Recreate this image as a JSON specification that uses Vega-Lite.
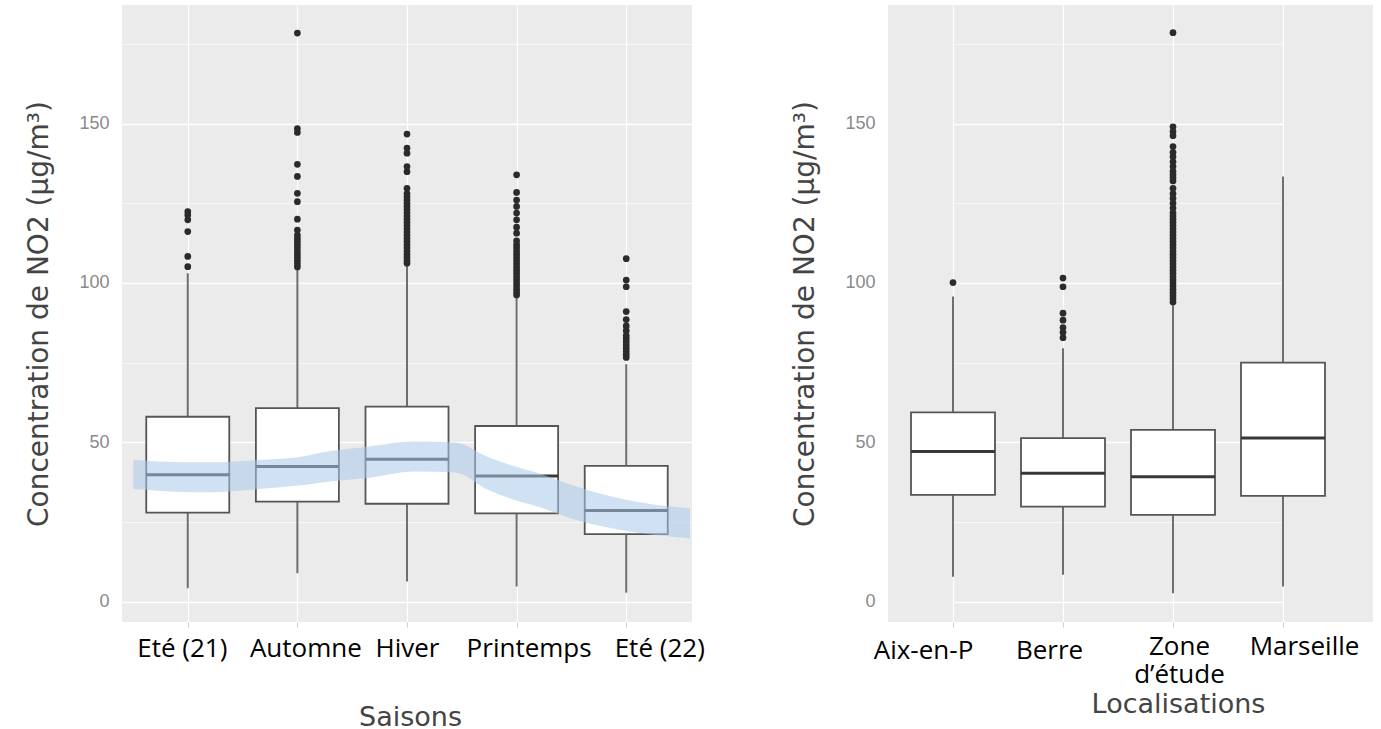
{
  "$schema": "https://vega.github.io/schema/vega-lite/v6.json",
  "padding": {"left": 25, "top": 5, "right": 5, "bottom": 0},
  "background": "white",
  "bounds": "flush",
  "spacing": 196,
  "datasets": {
    "leftBox": [
      {"s": "Eté (21)", "lo": 4.2, "q1": 27.9, "med": 39.8, "q3": 58.0, "hi": 103},
      {"s": "Automne", "lo": 8.9, "q1": 31.4, "med": 42.4, "q3": 60.7, "hi": 104.5},
      {"s": "Hiver", "lo": 6.3, "q1": 30.7, "med": 44.7, "q3": 61.2, "hi": 105.5},
      {"s": "Printemps", "lo": 4.7, "q1": 27.7, "med": 39.4, "q3": 55.1, "hi": 95.5},
      {"s": "Eté (22)", "lo": 2.8, "q1": 21.2, "med": 28.6, "q3": 42.6, "hi": 74.5}
    ],
    "leftOut": [
      {"s": "Eté (21)", "v": 105.1}, {"s": "Eté (21)", "v": 108.3}, {"s": "Eté (21)", "v": 116.1}, {"s": "Eté (21)", "v": 119.8}, {"s": "Eté (21)", "v": 121.3}, {"s": "Eté (21)", "v": 122.4},
      {"s": "Automne", "v": 105}, {"s": "Automne", "v": 106}, {"s": "Automne", "v": 107}, {"s": "Automne", "v": 108}, {"s": "Automne", "v": 109}, {"s": "Automne", "v": 110}, {"s": "Automne", "v": 111}, {"s": "Automne", "v": 112}, {"s": "Automne", "v": 113}, {"s": "Automne", "v": 114}, {"s": "Automne", "v": 115}, {"s": "Automne", "v": 116.6}, {"s": "Automne", "v": 120}, {"s": "Automne", "v": 125.5}, {"s": "Automne", "v": 128.1}, {"s": "Automne", "v": 133.4}, {"s": "Automne", "v": 137.2}, {"s": "Automne", "v": 147.2}, {"s": "Automne", "v": 148.4}, {"s": "Automne", "v": 178.4},
      {"s": "Hiver", "v": 106.2}, {"s": "Hiver", "v": 107}, {"s": "Hiver", "v": 108}, {"s": "Hiver", "v": 109}, {"s": "Hiver", "v": 110}, {"s": "Hiver", "v": 111}, {"s": "Hiver", "v": 112}, {"s": "Hiver", "v": 113}, {"s": "Hiver", "v": 114}, {"s": "Hiver", "v": 115}, {"s": "Hiver", "v": 116}, {"s": "Hiver", "v": 117}, {"s": "Hiver", "v": 118}, {"s": "Hiver", "v": 119}, {"s": "Hiver", "v": 120}, {"s": "Hiver", "v": 121}, {"s": "Hiver", "v": 122}, {"s": "Hiver", "v": 123}, {"s": "Hiver", "v": 124}, {"s": "Hiver", "v": 125}, {"s": "Hiver", "v": 126}, {"s": "Hiver", "v": 127}, {"s": "Hiver", "v": 128}, {"s": "Hiver", "v": 129.7}, {"s": "Hiver", "v": 134.9}, {"s": "Hiver", "v": 136.5}, {"s": "Hiver", "v": 140.7}, {"s": "Hiver", "v": 142.3}, {"s": "Hiver", "v": 146.7},
      {"s": "Printemps", "v": 96.2}, {"s": "Printemps", "v": 97}, {"s": "Printemps", "v": 98}, {"s": "Printemps", "v": 99}, {"s": "Printemps", "v": 100}, {"s": "Printemps", "v": 101}, {"s": "Printemps", "v": 102}, {"s": "Printemps", "v": 103}, {"s": "Printemps", "v": 104}, {"s": "Printemps", "v": 105}, {"s": "Printemps", "v": 106}, {"s": "Printemps", "v": 107}, {"s": "Printemps", "v": 108}, {"s": "Printemps", "v": 109}, {"s": "Printemps", "v": 110}, {"s": "Printemps", "v": 111}, {"s": "Printemps", "v": 112}, {"s": "Printemps", "v": 113.2}, {"s": "Printemps", "v": 115.6}, {"s": "Printemps", "v": 117.5}, {"s": "Printemps", "v": 119.8}, {"s": "Printemps", "v": 121.9}, {"s": "Printemps", "v": 124}, {"s": "Printemps", "v": 126}, {"s": "Printemps", "v": 128.4}, {"s": "Printemps", "v": 133.9},
      {"s": "Eté (22)", "v": 76.6}, {"s": "Eté (22)", "v": 77.5}, {"s": "Eté (22)", "v": 78.5}, {"s": "Eté (22)", "v": 79.5}, {"s": "Eté (22)", "v": 80.5}, {"s": "Eté (22)", "v": 81.5}, {"s": "Eté (22)", "v": 82.5}, {"s": "Eté (22)", "v": 83.5}, {"s": "Eté (22)", "v": 85}, {"s": "Eté (22)", "v": 86.5}, {"s": "Eté (22)", "v": 88.5}, {"s": "Eté (22)", "v": 91}, {"s": "Eté (22)", "v": 98.8}, {"s": "Eté (22)", "v": 100.9}, {"s": "Eté (22)", "v": 107.6}
    ],
    "leftBand": [
      {"u": 0.503, "top": 44.4, "bot": 35.3},
      {"u": 0.728, "top": 44.0, "bot": 34.8},
      {"u": 1.185, "top": 43.7, "bot": 34.3},
      {"u": 1.641, "top": 44.4, "bot": 35.3},
      {"u": 2.006, "top": 45.3, "bot": 36.4},
      {"u": 2.316, "top": 47.3, "bot": 37.8},
      {"u": 2.617, "top": 48.5, "bot": 38.7},
      {"u": 3.073, "top": 50.2, "bot": 40.8},
      {"u": 3.438, "top": 49.9, "bot": 40.5},
      {"u": 3.742, "top": 45.3, "bot": 35.0},
      {"u": 3.986, "top": 42.4, "bot": 31.8},
      {"u": 4.198, "top": 40.3, "bot": 29.8},
      {"u": 4.503, "top": 36.6, "bot": 26.0},
      {"u": 4.868, "top": 33.0, "bot": 23.0},
      {"u": 5.263, "top": 30.4, "bot": 20.9},
      {"u": 5.582, "top": 29.3, "bot": 19.9}
    ],
    "rightBox": [
      {"s": "Aix-en-P", "lo": 7.8, "q1": 33.5, "med": 47.1, "q3": 59.4, "hi": 95.7},
      {"s": "Berre", "lo": 8.4, "q1": 29.8, "med": 40.3, "q3": 51.3, "hi": 79.5},
      {"s": "Zone d’étude", "lo": 2.6, "q1": 27.2, "med": 39.2, "q3": 53.9, "hi": 93},
      {"s": "Marseille", "lo": 4.7, "q1": 33.2, "med": 51.3, "q3": 75.0, "hi": 133.4}
    ],
    "rightOut": [
      {"s": "Aix-en-P", "v": 100.1},
      {"s": "Berre", "v": 82.8}, {"s": "Berre", "v": 84.5}, {"s": "Berre", "v": 86}, {"s": "Berre", "v": 88.3}, {"s": "Berre", "v": 90.5}, {"s": "Berre", "v": 98.8}, {"s": "Berre", "v": 101.5},
      {"s": "Zone d’étude", "v": 94}, {"s": "Zone d’étude", "v": 95}, {"s": "Zone d’étude", "v": 96}, {"s": "Zone d’étude", "v": 97}, {"s": "Zone d’étude", "v": 98}, {"s": "Zone d’étude", "v": 99}, {"s": "Zone d’étude", "v": 100}, {"s": "Zone d’étude", "v": 101}, {"s": "Zone d’étude", "v": 102}, {"s": "Zone d’étude", "v": 103}, {"s": "Zone d’étude", "v": 104}, {"s": "Zone d’étude", "v": 105}, {"s": "Zone d’étude", "v": 106}, {"s": "Zone d’étude", "v": 107}, {"s": "Zone d’étude", "v": 108}, {"s": "Zone d’étude", "v": 109}, {"s": "Zone d’étude", "v": 110}, {"s": "Zone d’étude", "v": 111}, {"s": "Zone d’étude", "v": 112}, {"s": "Zone d’étude", "v": 113}, {"s": "Zone d’étude", "v": 114}, {"s": "Zone d’étude", "v": 115}, {"s": "Zone d’étude", "v": 116}, {"s": "Zone d’étude", "v": 117}, {"s": "Zone d’étude", "v": 118}, {"s": "Zone d’étude", "v": 119}, {"s": "Zone d’étude", "v": 120}, {"s": "Zone d’étude", "v": 121},
      {"s": "Zone d’étude", "v": 122}, {"s": "Zone d’étude", "v": 123.5}, {"s": "Zone d’étude", "v": 125}, {"s": "Zone d’étude", "v": 126.5}, {"s": "Zone d’étude", "v": 128}, {"s": "Zone d’étude", "v": 129.7}, {"s": "Zone d’étude", "v": 132}, {"s": "Zone d’étude", "v": 133}, {"s": "Zone d’étude", "v": 134}, {"s": "Zone d’étude", "v": 135}, {"s": "Zone d’étude", "v": 136.5}, {"s": "Zone d’étude", "v": 138}, {"s": "Zone d’étude", "v": 139.6}, {"s": "Zone d’étude", "v": 141}, {"s": "Zone d’étude", "v": 142.8}, {"s": "Zone d’étude", "v": 146.2}, {"s": "Zone d’étude", "v": 147.5}, {"s": "Zone d’étude", "v": 149}, {"s": "Zone d’étude", "v": 178.5}
    ]
  },
  "config": {
    "view": {"fill": "#ebebeb", "stroke": null},
    "axis": {"domain": false, "gridColor": "#ffffff"},
    "axisY": {
      "labelExpr": "datum.value % 50 == 0 ? datum.label : ''",
      "gridWidth": {"condition": {"test": "datum.value % 50 == 0", "value": 1.3}, "value": 0.6},
      "tickOpacity": {"condition": {"test": "datum.value % 50 == 0", "value": 1}, "value": 0},
      "tickSize": 6, "tickColor": "#8a8a8a", "tickWidth": 1.2,
      "labelFont": "Liberation Sans", "labelFontSize": 18, "labelColor": "#8a8a8a", "labelPadding": 7,
      "titleFont": "DejaVu Sans", "titleFontSize": 28, "titleFontWeight": "normal", "titleColor": "#444444", "titlePadding": 25
    }
  },
  "hconcat": [
    {
      "width": 570,
      "height": 617,
      "layer": [
        {
          "encoding": {
            "x": {
              "field": "s", "type": "nominal", "sort": null, "title": "Saisons",
              "scale": {"type": "point", "padding": 0.6, "domain": ["Eté (21)", "Automne", "Hiver", "Printemps", "Eté (22)"]},
              "axis": {
                "grid": true, "gridWidth": 1.2, "labelAngle": 0,
                "labelFont": "Open Sans", "labelFontSize": 26, "labelColor": "#000000", "labelPadding": 8,
                "labelOffset": {"condition": [
                  {"test": "datum.value == 'Eté (21)'", "value": -6},
                  {"test": "datum.value == 'Automne'", "value": 8},
                  {"test": "datum.value == 'Printemps'", "value": 12},
                  {"test": "datum.value == 'Eté (22)'", "value": 33}
                ], "value": 0},
                "tickSize": 5, "tickColor": "#cfcfcf",
                "titleFont": "DejaVu Sans", "titleFontSize": 27, "titleFontWeight": "normal", "titleColor": "#444444",
                "titleX": 288, "titleY": 82, "titleBaseline": "top"
              }
            }
          },
          "layer": [
            {
              "data": {"name": "leftBox"},
              "mark": {"type": "rule", "color": "#6e6e6e", "strokeWidth": 2},
              "encoding": {
                "y": {"field": "lo", "type": "quantitative", "title": "Concentration de NO2 (µg/m³)",
                  "scale": {"domain": [-6.4, 187.2], "nice": false, "zero": false},
                  "axis": {"values": [0, 25, 50, 75, 100, 125, 150, 175]}},
                "y2": {"field": "hi"}
              }
            },
            {
              "data": {"name": "leftBox"},
              "mark": {"type": "bar", "width": 83, "fill": "#ffffff", "stroke": "#555555", "strokeWidth": 1.8},
              "encoding": {
                "y": {"field": "q1", "type": "quantitative", "title": "Concentration de NO2 (µg/m³)", "scale": {"domain": [-6.4, 187.2], "nice": false, "zero": false}, "axis": {"values": [0, 25, 50, 75, 100, 125, 150, 175]}},
                "y2": {"field": "q3"}
              }
            },
            {
              "data": {"name": "leftBox"},
              "mark": {"type": "tick", "size": 83, "thickness": 3, "color": "#383838", "opacity": 1},
              "encoding": {
                "y": {"field": "med", "type": "quantitative", "title": "Concentration de NO2 (µg/m³)", "scale": {"domain": [-6.4, 187.2], "nice": false, "zero": false}, "axis": {"values": [0, 25, 50, 75, 100, 125, 150, 175]}}
              }
            },
            {
              "data": {"name": "leftOut"},
              "mark": {"type": "circle", "size": 45, "color": "#2b2b2b", "opacity": 1},
              "encoding": {
                "y": {"field": "v", "type": "quantitative", "title": "Concentration de NO2 (µg/m³)", "scale": {"domain": [-6.4, 187.2], "nice": false, "zero": false}, "axis": {"values": [0, 25, 50, 75, 100, 125, 150, 175]}}
              }
            }
          ]
        },
        {
          "data": {"name": "leftBand"},
          "mark": {"type": "area", "interpolate": "monotone", "fill": "#a8c8e8", "opacity": 0.55},
          "encoding": {
            "x": {"field": "u", "type": "quantitative", "scale": {"domain": [0.4, 5.6], "nice": false, "zero": false}, "axis": null},
            "y": {"field": "top", "type": "quantitative", "title": "Concentration de NO2 (µg/m³)", "scale": {"domain": [-6.4, 187.2], "nice": false, "zero": false}, "axis": {"values": [0, 25, 50, 75, 100, 125, 150, 175]}},
            "y2": {"field": "bot"}
          }
        }
      ],
      "resolve": {"scale": {"x": "independent"}, "axis": {"x": "independent"}}
    },
    {
      "width": 485,
      "height": 617,
      "encoding": {
        "x": {
          "field": "s", "type": "nominal", "sort": null, "title": "Localisations",
          "scale": {"type": "point", "padding": 0, "range": [65, 395], "domain": ["Aix-en-P", "Berre", "Zone d’étude", "Marseille"]},
          "axis": {
            "grid": true, "gridWidth": 1.2, "labelAngle": 0,
            "labelFont": "Open Sans", "labelFontSize": 26, "labelColor": "#000000", "labelLineHeight": 28,
            "labelPadding": {"condition": {"test": "datum.value == 'Zone d’étude' || datum.value == 'Marseille'", "value": 6}, "value": 10},
            "labelExpr": "datum.value == 'Zone d’étude' ? ['Zone', 'd’étude'] : datum.label",
            "labelOffset": {"condition": [
              {"test": "datum.value == 'Aix-en-P'", "value": -30},
              {"test": "datum.value == 'Berre'", "value": -14},
              {"test": "datum.value == 'Zone d’étude'", "value": 6},
              {"test": "datum.value == 'Marseille'", "value": 21}
            ], "value": 0},
            "tickSize": 5, "tickColor": "#cfcfcf",
            "titleFont": "DejaVu Sans", "titleFontSize": 27, "titleFontWeight": "normal", "titleColor": "#444444",
            "titleX": 290, "titleY": 69, "titleBaseline": "top"
          }
        }
      },
      "layer": [
        {
          "data": {"name": "rightBox"},
          "mark": {"type": "rule", "color": "#6e6e6e", "strokeWidth": 2},
          "encoding": {
            "y": {"field": "lo", "type": "quantitative", "title": "Concentration de NO2 (µg/m³)",
              "scale": {"domain": [-6.4, 187.2], "nice": false, "zero": false}, "axis": {"values": [0, 25, 50, 75, 100, 125, 150, 175]}},
            "y2": {"field": "hi"}
          }
        },
        {
          "data": {"name": "rightBox"},
          "mark": {"type": "bar", "width": 84, "fill": "#ffffff", "stroke": "#555555", "strokeWidth": 1.8},
          "encoding": {
            "y": {"field": "q1", "type": "quantitative", "title": "Concentration de NO2 (µg/m³)", "scale": {"domain": [-6.4, 187.2], "nice": false, "zero": false}, "axis": {"values": [0, 25, 50, 75, 100, 125, 150, 175]}},
            "y2": {"field": "q3"}
          }
        },
        {
          "data": {"name": "rightBox"},
          "mark": {"type": "tick", "size": 84, "thickness": 3, "color": "#383838", "opacity": 1},
          "encoding": {
            "y": {"field": "med", "type": "quantitative", "title": "Concentration de NO2 (µg/m³)", "scale": {"domain": [-6.4, 187.2], "nice": false, "zero": false}, "axis": {"values": [0, 25, 50, 75, 100, 125, 150, 175]}}
          }
        },
        {
          "data": {"name": "rightOut"},
          "mark": {"type": "circle", "size": 45, "color": "#2b2b2b", "opacity": 1},
          "encoding": {
            "y": {"field": "v", "type": "quantitative", "title": "Concentration de NO2 (µg/m³)", "scale": {"domain": [-6.4, 187.2], "nice": false, "zero": false}, "axis": {"values": [0, 25, 50, 75, 100, 125, 150, 175]}}
          }
        }
      ]
    }
  ]
}
